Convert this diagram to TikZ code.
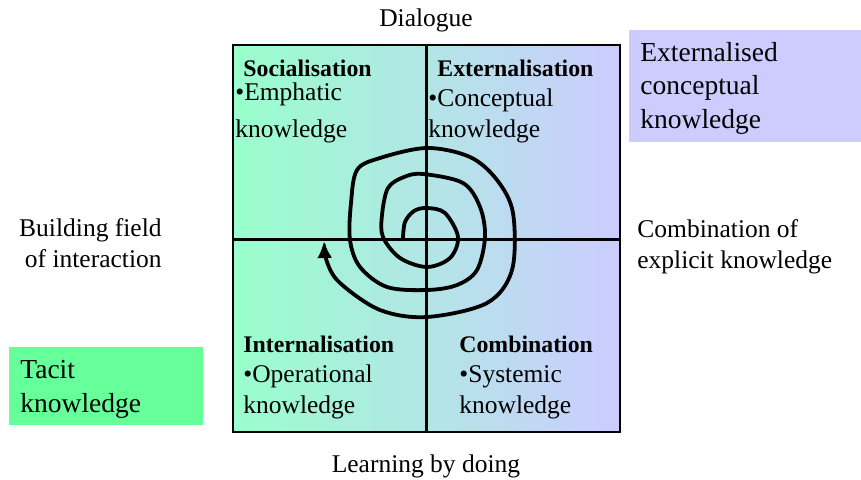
\documentclass[tikz,border=0pt]{standalone}
\usepackage{fontspec}
\setmainfont{Liberation Serif}
\usepackage{tikz}
\usetikzlibrary{arrows.meta}

\definecolor{mintgreen}{RGB}{153,255,204}
\definecolor{tacitgreen}{RGB}{102,255,153}
\definecolor{lavender}{RGB}{204,204,255}

\tikzset{
	txt/.style={anchor=base west, inner sep=0pt, font=\fontsize{25.5}{31}\selectfont},
	title/.style={txt, font=\fontsize{23.8}{31}\selectfont\bfseries},
	big/.style={txt, font=\fontsize{27.5}{33.5}\selectfont, align=left}
}

\begin{document}
\begin{tikzpicture}[x=1pt, y=-1pt, thick]
	\useasboundingbox (0,0) rectangle (861,479);

	\fill[tacitgreen] (9,347) rectangle (203,425);
	\fill[lavender] (629,30) rectangle (861,142);
	\shade[left color=mintgreen, right color=lavender] (233,45) rectangle (620,432);
	\draw[line width=2pt] (233,45) rectangle (620,432);

	\draw[line width=3pt] (233,239) -- (620,239);
	\draw[line width=3pt] (426,45) -- (426,432);

	\draw[
		line width=3.8pt,
		line cap=round,
		-{Latex[length=17pt, width=15pt]}
	] plot[smooth, tension=0.55] coordinates {
		(403,238) (405,222) (414,211) (427,208) (445,213) (458,237)
		(450,258) (427,267) (400,258) (383,237) (382,215) (388,188)
		(404,177) (423,174) (463,183) (480,207) (485,237) (477,270)
		(457,285) (427,290) (387,287) (360,267) (350,240) (351,203)
		(357,170) (380,158) (427,148) (470,157) (497,180) (513,213)
		(512,270) (487,303) (427,317) (380,310) (340,283) (327,262)
		(324,241)
	};

	\node[txt, anchor=base] (dialogue) at (426,26) {Dialogue};
	\node[txt, anchor=base] (doing) at (426,472) {Learning by doing};

	\node[title] (soc) at (243,76) {Socialisation};
	\node[txt, align=left] (soctext) at (235,137) {\textbullet Emphatic\\[6pt]knowledge};
	\node[title] (ext) at (437,76) {Externalisation};
	\node[txt, align=left] (exttext) at (428,137) {\textbullet Conceptual\\knowledge};
	\node[title] (int) at (243,352) {Internalisation};
	\node[txt, align=left] (inttext) at (243,413) {\textbullet Operational\\knowledge};
	\node[title] (comb) at (459,352) {Combination};
	\node[txt, align=left] (combtext) at (459,413) {\textbullet Systemic\\knowledge};

	\node[txt, anchor=base east, align=right] (field) at (162,267) {Building field\\of interaction};
	\node[txt, align=left] (explicit) at (637,268) {Combination of\\explicit knowledge};

	\node[big] (tacit) at (20,412) {Tacit\\knowledge};
	\node[big] (extcon) at (640,128) {Externalised\\conceptual\\knowledge};
\end{tikzpicture}
\end{document}
